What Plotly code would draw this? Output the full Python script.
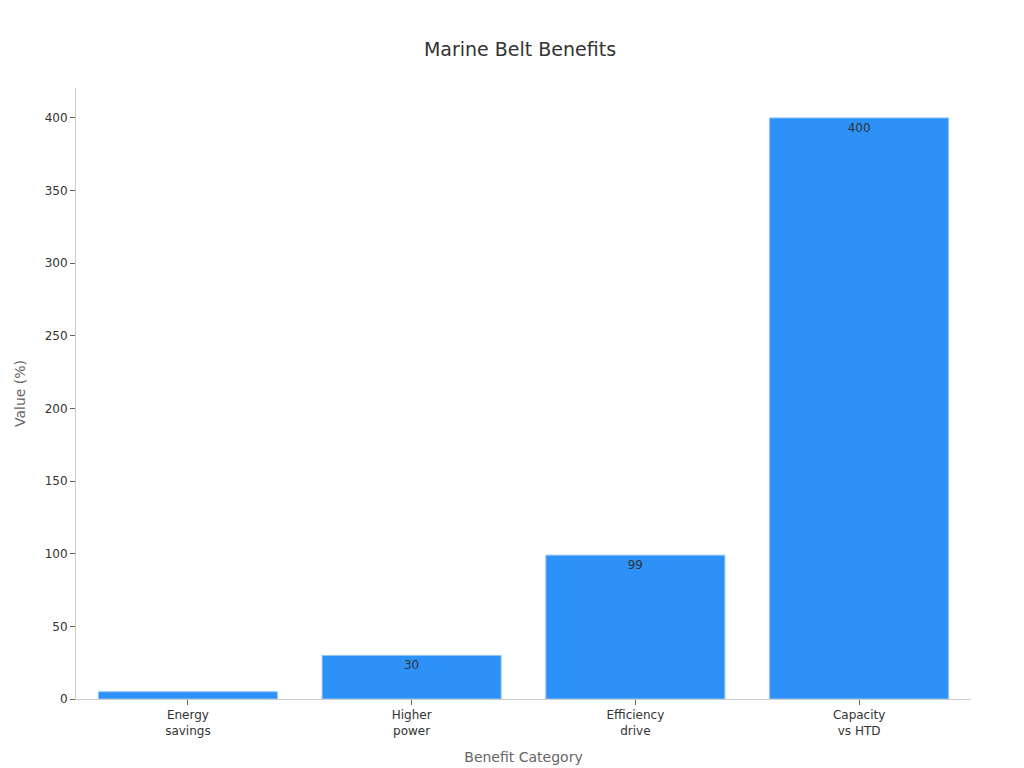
import plotly.graph_objects as go

categories = ["Energy<br>savings", "Higher<br>power", "Efficiency<br>drive", "Capacity<br>vs HTD"]
values = [5, 30, 99, 400]
labels = ["", "30", "99", "400"]

fig = go.Figure(go.Bar(
    x=categories, y=values, text=labels, textposition="inside",
    insidetextanchor="end", textfont=dict(color="#333333", size=12),
    marker=dict(color="#2E91F7", line=dict(color="#8CC4FA", width=1)),
    width=0.8, cliponaxis=False,
))
fig.update_layout(
    width=1024, height=768, template="plotly_white",
    font=dict(family="DejaVu Sans", color="#333333"),
    title=dict(text="Marine Belt Benefits", x=0.5, xanchor="center", y=0.955, font=dict(size=19)),
    margin=dict(l=68, r=61, t=80, b=77),
    showlegend=False, plot_bgcolor="white",
    xaxis=dict(title=dict(text="Benefit Category", font=dict(size=14, color="#666666")),
               showline=True, linecolor="#cccccc", ticks="outside", ticklen=5, tickcolor="#666666",
               showgrid=False, tickfont=dict(size=12)),
    yaxis=dict(title=dict(text="Value (%)", font=dict(size=14, color="#666666")),
               range=[0, 420.6], dtick=50, showline=True, linecolor="#cccccc", ticks="outside",
               ticklen=5, tickcolor="#666666", showgrid=False, zeroline=False, tickfont=dict(size=12)),
)
fig.write_html("out.html")
